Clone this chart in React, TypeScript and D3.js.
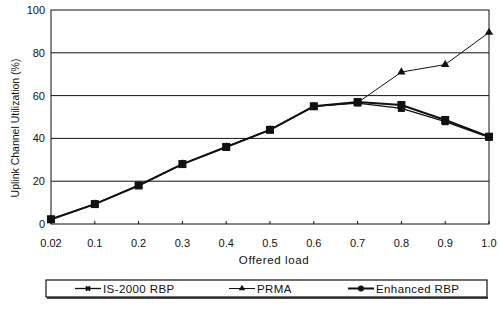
import { useEffect, useRef } from 'react';
import * as d3 from 'd3';

const loads = ['0.02', '0.1', '0.2', '0.3', '0.4', '0.5', '0.6', '0.7', '0.8', '0.9', '1.0'];
const is2000 = [2.2, 9.3, 18, 28, 36, 44, 55, 56.5, 54, 47.8, 40.5];
const prma = [2.2, 9.3, 18, 28, 36, 44, 55, 56.7, 71, 74.5, 89.5];
const enhanced = [2.2, 9.3, 18, 28, 36, 44, 55, 57, 55.6, 48.6, 40.8];
const yTicks = [0, 20, 40, 60, 80, 100];

const FONT = 'Arial, "Liberation Sans", sans-serif';

export default function App() {
  const svgRef = useRef<SVGSVGElement>(null);

  useEffect(() => {
    const svg = d3.select(svgRef.current);
    svg.selectAll('*').remove();

    const W = 499, H = 311;
    const margin = { top: 10, right: 10, bottom: 87, left: 51 };
    const iW = W - margin.left - margin.right;
    const iH = H - margin.top - margin.bottom;

    svg.attr('width', W).attr('height', H);
    svg.append('rect').attr('width', W).attr('height', H).attr('fill', '#fff');

    const g = svg.append('g').attr('transform', `translate(${margin.left},${margin.top})`);

    const x = d3.scalePoint<string>().domain(loads).range([0, iW]);
    const y = d3.scaleLinear().domain([0, 100]).range([iH, 0]);

    // gridlines
    yTicks.filter(t => t > 0 && t < 100).forEach(t => {
      g.append('line').attr('x1', 0).attr('x2', iW).attr('y1', y(t)).attr('y2', y(t))
        .attr('stroke', '#111').attr('stroke-width', 1);
    });

    // frame
    g.append('rect').attr('width', iW).attr('height', iH)
      .attr('fill', 'none').attr('stroke', '#111').attr('stroke-width', 1);

    // ticks
    loads.forEach(l => {
      g.append('line').attr('x1', x(l)!).attr('x2', x(l)!).attr('y1', iH).attr('y2', iH - 3)
        .attr('stroke', '#111');
      g.append('text').attr('x', x(l)!).attr('y', iH + 22.5)
        .attr('text-anchor', 'middle').attr('font-size', 11).attr('font-family', FONT)
        .attr('fill', '#111').text(l);
    });
    yTicks.forEach(t => {
      g.append('text').attr('x', -6).attr('y', y(t) + 4)
        .attr('text-anchor', 'end').attr('font-size', 11).attr('font-family', FONT)
        .attr('fill', '#111').text(t);
    });

    g.append('text').attr('x', iW / 2 + 4).attr('y', iH + 40)
      .attr('text-anchor', 'middle').attr('font-size', 11.5).attr('font-family', FONT)
      .attr('letter-spacing', 0.6).attr('fill', '#111').text('Offered load');
    g.append('text').attr('transform', 'rotate(-90)')
      .attr('x', -(iH / 2 + 11)).attr('y', -32)
      .attr('text-anchor', 'middle').attr('font-size', 10.5).attr('font-family', FONT)
      .attr('fill', '#111').text('Uplink Channel Utilization (%)');

    const line = d3.line<number>().x((_, i) => x(loads[i])!).y(d => y(d));

    const series = [
      { name: 'PRMA', data: prma, width: 1, marker: 'tri' },
      { name: 'IS-2000 RBP', data: is2000, width: 1.3, marker: 'star' },
      { name: 'Enhanced RBP', data: enhanced, width: 2, marker: 'dot' },
    ];

    const drawMarker = (sel: d3.Selection<SVGGElement, unknown, null, undefined>, cx: number, cy: number, m: string) => {
      if (m === 'tri') {
        sel.append('path').attr('d', d3.symbol(d3.symbolTriangle, 30)()!)
          .attr('transform', `translate(${cx},${cy})`).attr('fill', '#111');
      } else if (m === 'star') {
        sel.append('rect').attr('x', cx - 3.5).attr('y', cy - 3.5).attr('width', 7).attr('height', 7)
          .attr('fill', '#111');
      } else {
        sel.append('rect').attr('x', cx - 4).attr('y', cy - 4).attr('width', 8).attr('height', 8)
          .attr('fill', '#111');
      }
    };

    series.forEach(s => {
      g.append('path').datum(s.data).attr('d', line)
        .attr('fill', 'none').attr('stroke', '#111').attr('stroke-width', s.width);
    });
    series.forEach(s => {
      const mg = g.append('g');
      s.data.forEach((d, i) => drawMarker(mg, x(loads[i])!, y(d), s.marker));
    });

    // legend
    const lg = svg.append('g');
    lg.append('rect').attr('x', 46).attr('y', 280).attr('width', 441).attr('height', 17)
      .attr('fill', '#fff').attr('stroke', '#111').attr('stroke-width', 1.2);
    lg.append('line').attr('x1', 47).attr('x2', 488).attr('y1', 298).attr('y2', 298)
      .attr('stroke', '#111').attr('stroke-width', 1.5);
    const legendItems = [
      { name: 'IS-2000 RBP', x0: 75, w: 1.3, m: 'star' },
      { name: 'PRMA', x0: 229, w: 1, m: 'tri' },
      { name: 'Enhanced RBP', x0: 348, w: 2, m: 'dot' },
    ];
    legendItems.forEach(it => {
      lg.append('line').attr('x1', it.x0).attr('x2', it.x0 + 26).attr('y1', 288.5).attr('y2', 288.5)
        .attr('stroke', '#111').attr('stroke-width', it.w);
      if (it.m === 'tri') {
        lg.append('path').attr('d', d3.symbol(d3.symbolTriangle, 18)()!)
          .attr('transform', `translate(${it.x0 + 13},288.5)`).attr('fill', '#111');
      } else if (it.m === 'star') {
        lg.append('path').attr('d', d3.symbol(d3.symbolCross, 20)()!)
          .attr('transform', `translate(${it.x0 + 13},288.5) rotate(45)`).attr('fill', '#111');
      } else {
        lg.append('circle').attr('cx', it.x0 + 13).attr('cy', 288.5).attr('r', 3).attr('fill', '#111');
      }
      lg.append('text').attr('x', it.x0 + 28).attr('y', 292.5)
        .attr('font-size', 11.5).attr('font-family', FONT).attr('letter-spacing', 0.4)
        .attr('fill', '#111').text(it.name);
    });
  }, []);

  return (
    <div style={{ position: 'fixed', left: 0, top: 0, width: 499, height: 311, background: '#fff' }}>
      <svg ref={svgRef} style={{ display: 'block' }} />
    </div>
  );
}
